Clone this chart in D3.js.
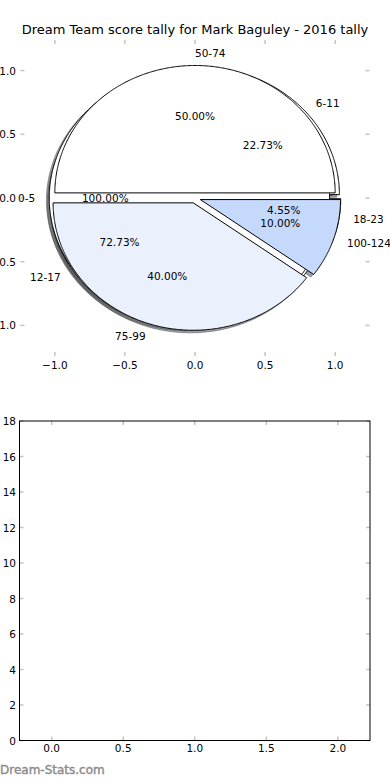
<!DOCTYPE html>
<html>
<head>
<meta charset="utf-8">
<script src="https://cdn.jsdelivr.net/npm/d3@7"></script>
<style>
  html, body { margin: 0; padding: 0; background: #fff; }
  svg { display: block; }
  text { font-family: "DejaVu Sans", sans-serif; fill: #000; }
</style>
</head>
<body>
<div id="chart"></div>
<script>
// 饼图数据（三个饼叠在同一个坐标系里）
const pie1Labels = ['0-5'];
const pie1Values = [1];
const pie2Labels = ['6-11', '12-17', '18-23'];
const pie2Values = [5, 16, 1];
const pie3Labels = ['50-74', '75-99', '100-124'];
const pie3Values = [5, 4, 1];

// 刻度
const pieTicks = [-1.0, -0.5, 0.0, 0.5, 1.0];
const barXTicks = [0.0, 0.5, 1.0, 1.5, 2.0];
const barYTicks = [0, 2, 4, 6, 8, 10, 12, 14, 16, 18];

const title = 'Dream Team score tally for Mark Baguley - 2016 tally';
const watermark = 'Dream-Stats.com';

window.onload = () => {
    const width = 390, height = 780;
    const explode = 0.04;
    const shadowOff = -0.02;

    const svg = d3.select('#chart').append('svg')
        .attr('width', width)
        .attr('height', height);

    // 颜色按标签区间
    const sliceColor = d3.scaleOrdinal()
        .domain(['75-99', '100-124'])
        .range(['#eaf1fd', '#c5d9fd'])
        .unknown('#ffffff');

    // ---------- 上面的饼图 ----------
    const xTop = d3.scaleLinear().domain([-1.245, 1.245]).range([20.5, 369.5]);
    const yTop = d3.scaleLinear().domain([-1.24, 1.24]).range([356, 40]);

    const fmtTick = d => d3.format('.1f')(d).replace('-', '\u2212');

    // 坐标轴刻度（无边框）
    const tickG = svg.append('g').attr('stroke', '#c4c4c4').attr('stroke-width', 1.5);
    pieTicks.forEach(t => {
        tickG.append('line').attr('x1', xTop(t)).attr('x2', xTop(t)).attr('y1', 40).attr('y2', 44);
        tickG.append('line').attr('x1', xTop(t)).attr('x2', xTop(t)).attr('y1', 356).attr('y2', 352);
        tickG.append('line').attr('x1', 20.5).attr('x2', 24.5).attr('y1', yTop(t)).attr('y2', yTop(t));
        tickG.append('line').attr('x1', 369.5).attr('x2', 365.5).attr('y1', yTop(t)).attr('y2', yTop(t));
    });
    svg.append('g').selectAll('text').data(pieTicks).join('text')
        .attr('x', d => xTop(d)).attr('y', 369)
        .attr('text-anchor', 'middle').attr('font-size', 10.5)
        .text(fmtTick);
    svg.append('g').selectAll('text').data(pieTicks).join('text')
        .attr('x', 16).attr('y', d => yTop(d) + 4)
        .attr('text-anchor', 'end').attr('font-size', 10.5)
        .text(fmtTick);

    const pieGen = d3.pie().sort(null).startAngle(0).endAngle(2 * Math.PI);
    const line = d3.line()
        .x(d => xTop(d[0]))
        .y(d => yTop(d[1]))
        .curve(d3.curveLinearClosed);

    function wedgePoints(a) {
        const mid = (a.startAngle + a.endAngle) / 2;
        const cx = explode * Math.cos(mid), cy = explode * Math.sin(mid);
        const full = a.endAngle - a.startAngle >= 2 * Math.PI - 1e-9;
        const n = Math.max(2, Math.ceil((a.endAngle - a.startAngle) / (Math.PI / 360)));
        const pts = full ? [] : [[cx, cy]];
        for (let i = 0; i <= n; i++) {
            const t = a.startAngle + (a.endAngle - a.startAngle) * i / n;
            pts.push([cx + Math.cos(t), cy + Math.sin(t)]);
        }
        return pts;
    }

    // 画的顺序：6-11组在下，0-5整圆盖在上面，最后是50-74组
    const pies = [
        { labels: pie2Labels, values: pie2Values },
        { labels: pie1Labels, values: pie1Values },
        { labels: pie3Labels, values: pie3Values }
    ];
    const slices = [];
    pies.forEach(p => {
        const total = d3.sum(p.values);
        pieGen(p.values).forEach((a, i) => {
            slices.push({ arc: a, label: p.labels[i], pct: a.value / total * 100 });
        });
    });

    // 阴影先画（在所有扇形下面）
    const shadowG = svg.append('g');
    slices.forEach(s => {
        const c = d3.rgb(sliceColor(s.label));
        const sc = d3.rgb(c.r * 0.3, c.g * 0.3, c.b * 0.3);
        const pts = wedgePoints(s.arc).map(p => [p[0] + shadowOff, p[1] + shadowOff]);
        shadowG.append('path')
            .attr('d', line(pts))
            .attr('fill', sc).attr('fill-opacity', 0.5)
            .attr('stroke', sc).attr('stroke-opacity', 0.5)
            .attr('stroke-width', 1);
    });

    const wedgeG = svg.append('g');
    slices.forEach(s => {
        wedgeG.append('path')
            .attr('d', line(wedgePoints(s.arc)))
            .attr('fill', sliceColor(s.label))
            .attr('stroke', '#000')
            .attr('stroke-width', 1)
            .attr('stroke-linejoin', 'miter');
    });

    // 标签和百分比
    const labelG = svg.append('g').attr('font-size', 10.5);
    slices.forEach(s => {
        const mid = (s.arc.startAngle + s.arc.endAngle) / 2;
        const cx = explode * Math.cos(mid), cy = explode * Math.sin(mid);
        const lx = cx + 1.1 * Math.cos(mid), ly = cy + 1.1 * Math.sin(mid);
        labelG.append('text')
            .attr('x', xTop(lx)).attr('y', yTop(ly) + 4)
            .attr('text-anchor', lx > 0 ? 'start' : 'end')
            .text(s.label);
        const px = cx + 0.6 * Math.cos(mid), py = cy + 0.6 * Math.sin(mid);
        labelG.append('text')
            .attr('x', xTop(px)).attr('y', yTop(py) + 4)
            .attr('text-anchor', 'middle')
            .text(s.pct.toFixed(2) + '%');
    });

    svg.append('text')
        .attr('x', 195).attr('y', 34)
        .attr('text-anchor', 'middle').attr('font-size', 13)
        .text(title);

    // ---------- 下面的空坐标系 ----------
    const xBot = d3.scaleLinear().domain([-0.225, 2.225]).range([19.5, 370]);
    const yBot = d3.scaleLinear().domain([0, 18]).range([740.5, 421]);

    const botTicks = svg.append('g').attr('stroke', '#c4c4c4').attr('stroke-width', 1.5);
    barXTicks.forEach(t => {
        botTicks.append('line').attr('x1', xBot(t)).attr('x2', xBot(t)).attr('y1', 421).attr('y2', 425);
        botTicks.append('line').attr('x1', xBot(t)).attr('x2', xBot(t)).attr('y1', 740.5).attr('y2', 736.5);
    });
    barYTicks.forEach(t => {
        botTicks.append('line').attr('x1', 19.5).attr('x2', 23.5).attr('y1', yBot(t)).attr('y2', yBot(t));
        botTicks.append('line').attr('x1', 370).attr('x2', 366).attr('y1', yBot(t)).attr('y2', yBot(t));
    });

    svg.append('rect')
        .attr('x', 19.5).attr('y', 421)
        .attr('width', 370 - 19.5).attr('height', 740.5 - 421)
        .attr('fill', 'none').attr('stroke', '#000').attr('stroke-width', 1);

    svg.append('g').selectAll('text').data(barXTicks).join('text')
        .attr('x', d => xBot(d)).attr('y', 752)
        .attr('text-anchor', 'middle').attr('font-size', 10.5)
        .text(d => d3.format('.1f')(d));
    svg.append('g').selectAll('text').data(barYTicks).join('text')
        .attr('x', 16).attr('y', d => yBot(d) + 4)
        .attr('text-anchor', 'end').attr('font-size', 10.5)
        .text(d => d);

    svg.append('text')
        .attr('x', 0).attr('y', 774)
        .attr('font-family', 'Open Sans, sans-serif')
        .attr('font-size', 12)
        .style('fill', '#8c8c8c')
        .style('stroke', '#8c8c8c')
        .style('stroke-width', 0.4)
        .text(watermark);
}
</script>
</body>
</html>
